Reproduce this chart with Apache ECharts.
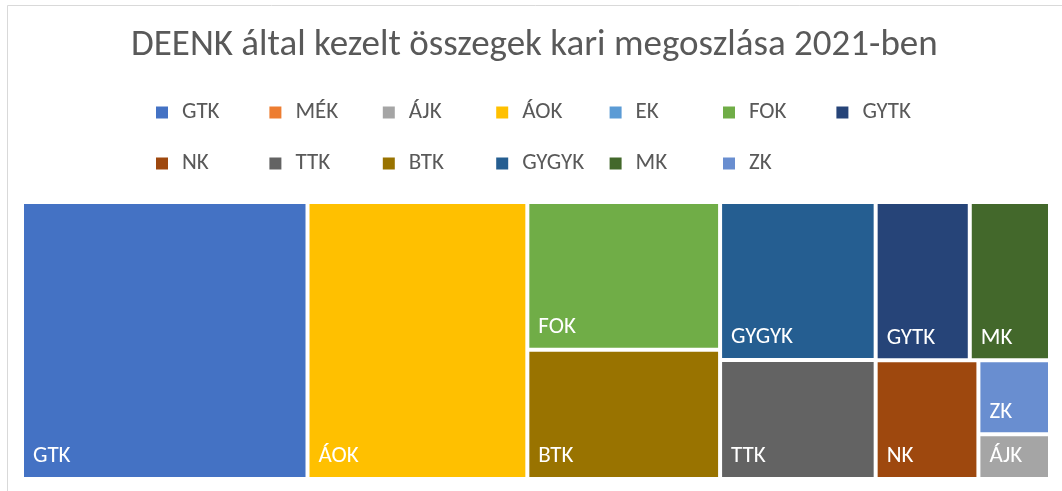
<!DOCTYPE html>
<html>
<head>
<meta charset="utf-8">
<script src="https://cdn.jsdelivr.net/npm/echarts@6/dist/echarts.min.js"></script>
<style>
  html, body { margin: 0; padding: 0; background: #fff; }
  #chart { width: 1062px; height: 491px; }
</style>
</head>
<body>
<div id="chart"></div>
<script>
// karok és összegek (a terület arányából becsülve)
const faculties = ['GTK', 'MÉK', 'ÁJK', 'ÁOK', 'EK', 'FOK', 'GYTK', 'NK', 'TTK', 'BTK', 'GYGYK', 'MK', 'ZK']
const amounts = [791, 0, 32, 609, 0, 285, 149, 122, 185, 249, 246, 127, 53]
const colors = ['#4472C4', '#ED7D31', '#A5A5A5', '#FFC000', '#5B9BD5', '#70AD47', '#264478',
  '#9E480E', '#636363', '#997300', '#255E91', '#43682B', '#698ED0']

const legendRow1 = ['GTK', 'MÉK', 'ÁJK', 'ÁOK', 'EK', 'FOK', 'GYTK']
const legendRow2 = ['NK', 'TTK', 'BTK', 'GYGYK', 'MK', 'ZK']

const FONT = 'Calibri, Carlito, Lato, sans-serif'

// treemap csomópontok (nullás értékek nélkül)
const treeData = faculties
  .map((name, i) => ({ name: name, value: amounts[i], itemStyle: { color: colors[i] } }))
  .filter(d => d.value > 0)

// jelmagyarázathoz láthatatlan kör
const legendData = faculties.map((name, i) => ({ name: name, value: 1, itemStyle: { color: colors[i] } }))

// oszloponként egy függőleges legend, így egyforma a szélesség
const legends = legendRow1.map((name, k) => {
  const names = [name]
  if (legendRow2[k]) names.push(legendRow2[k])
  return {
    data: names,
    left: 151 + k * 113.4,
    top: 96,
    orient: 'vertical',
    icon: 'rect',
    itemWidth: 12,
    itemHeight: 12,
    itemGap: 28,
    selectedMode: false,
    textStyle: {
      fontFamily: FONT,
      fontSize: 23,
      color: '#595959',
      padding: [0, 0, 0, 9]
    }
  }
})

const chart = echarts.init(document.getElementById('chart'))

chart.setOption({
  animation: false,
  backgroundColor: '#fff',
  title: {
    text: 'DEENK által kezelt összegek kari megoszlása 2021-ben',
    left: 126,
    top: 22,
    textStyle: {
      fontFamily: FONT,
      fontSize: 37,
      fontWeight: 'normal',
      color: '#595959'
    }
  },
  legend: legends,
  graphic: [{
    type: 'rect',
    shape: { x: 7.5, y: 5.5, width: 1200, height: 600 },
    style: { fill: 'none', stroke: '#d9d9d9', lineWidth: 1 },
    silent: true
  }],
  series: [
    {
      type: 'pie',
      radius: [0, 0],
      center: [-100, -100],
      silent: true,
      label: { show: false },
      labelLine: { show: false },
      data: legendData
    },
    {
      type: 'treemap',
      left: 24,
      top: 204,
      width: 1024,
      height: 273,
      squareRatio: 1,
      roam: false,
      nodeClick: false,
      breadcrumb: { show: false },
      itemStyle: { gapWidth: 4, borderWidth: 0, borderColor: '#fff' },
      label: {
        show: true,
        position: 'insideBottomLeft',
        distance: 4,
        fontFamily: FONT,
        fontSize: 23,
        color: '#fff'
      },
      emphasis: { disabled: true },
      data: treeData
    }
  ]
})
</script>
</body>
</html>
